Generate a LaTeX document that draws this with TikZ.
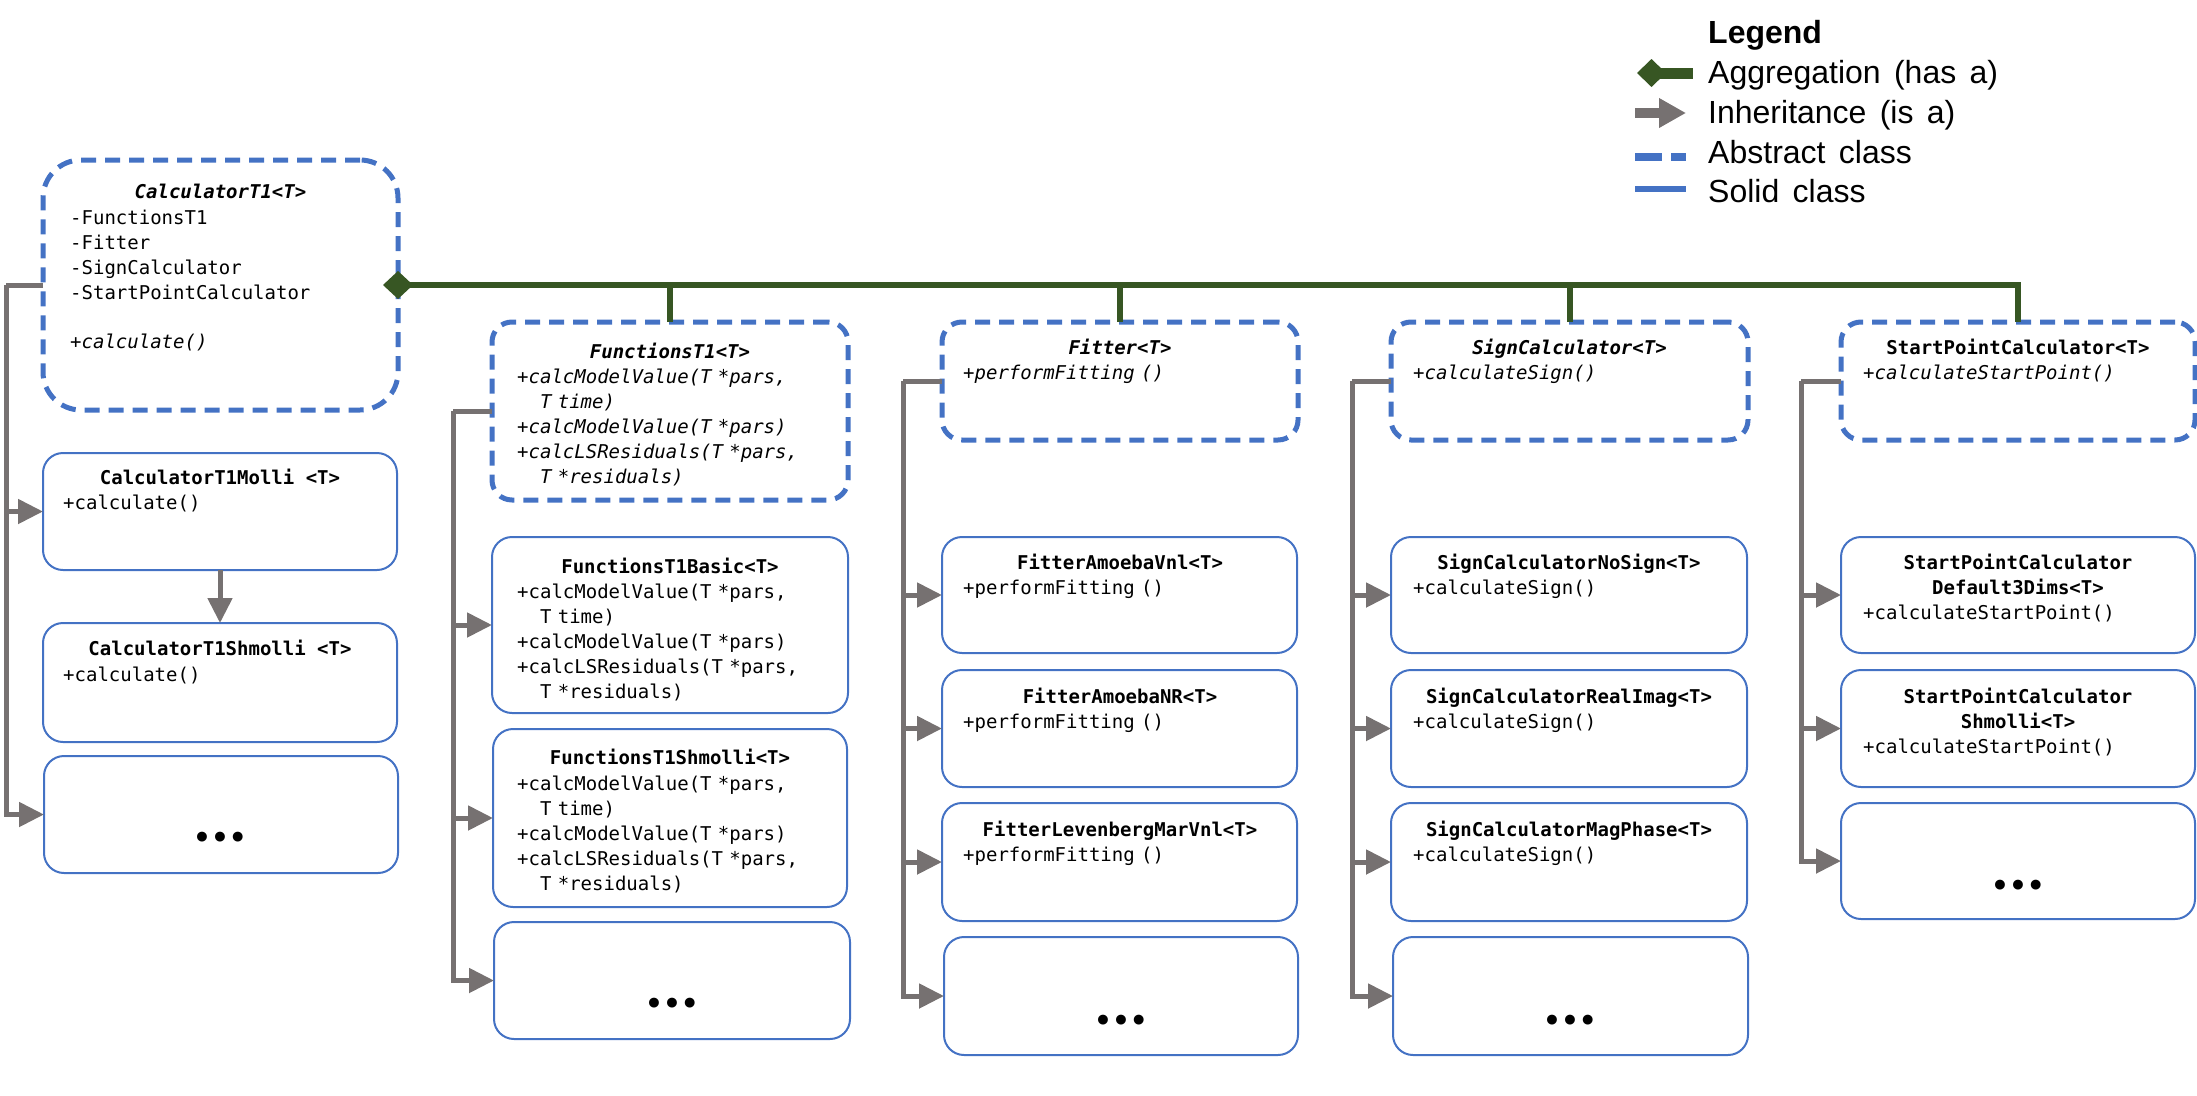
\documentclass[tikz,border=0pt]{standalone}
\usepackage{fontspec}
\setmainfont{Liberation Sans}
\setmonofont{DejaVu Sans Mono}
\newfontfamily\dotfont{DejaVu Sans}
\newfontfamily\legfont[WordSpace=1.5]{Liberation Sans}
\usetikzlibrary{arrows.meta,calc}
\definecolor{umlblue}{HTML}{4472C4}
\definecolor{inhgray}{HTML}{767171}
\definecolor{agggreen}{HTML}{375623}
\newcommand\mfont{\fontsize{19}{25}\selectfont\ttfamily}
\newcommand\umlbox[6]{\node[#1, minimum width={#5-#3}, minimum height={#6-#4}] (#2) at ({(#3+#5)/2},{(#4+#6)/2}) {};}
\begin{document}
\begin{tikzpicture}[x=1pt,y=-1pt,
  absbox/.style={draw=umlblue, line width=5pt, dash pattern=on 15pt off 9pt, rounded corners=20pt, inner sep=0pt, outer sep=0pt},
  solbox/.style={draw=umlblue, line width=2pt, rounded corners=20pt, inner sep=0pt, outer sep=0pt},
  ttl/.style={anchor=base, inner sep=0pt, font=\mfont\bfseries},
  ttli/.style={anchor=base, inner sep=0pt, font=\mfont\bfseries\itshape},
  ttlm/.style={anchor=north, inner sep=0pt, align=center, text width=340pt, font=\mfont\bfseries, execute at begin node={\rule{0pt}{17pt}}},
  body/.style={anchor=north west, inner sep=0pt, align=left, text width=320pt, font=\mfont, execute at begin node={\rule{0pt}{17pt}}},
  bodyi/.style={body, font=\mfont\itshape},
  dotst/.style={anchor=base, inner sep=0pt, font=\fontsize{28}{28}\selectfont\dotfont\bfseries},
  inh/.style={draw=inhgray, line width=5pt, line join=miter, -{Triangle[length=25pt,width=24pt]}},
  inhl/.style={draw=inhgray, line width=5pt, line join=miter},
  agg/.style={draw=agggreen, line width=6pt, line join=miter},
  legt/.style={anchor=base west, inner sep=0pt, font=\fontsize{32}{38}\selectfont\legfont},
]
\useasboundingbox (0,0) rectangle (2197,1095);

% ---------- column 0 ----------
\umlbox{absbox, rounded corners=38pt}{root}{43}{160}{398}{410}
\umlbox{solbox}{molli}{43}{453}{397}{570}
\umlbox{solbox}{shmolli}{43}{623}{397}{742}
\umlbox{solbox}{dots0}{44}{756}{398}{873}
\node[ttli] (root-t) at (220.5,198) {CalculatorT1<T>};
\node[body] (root-b) at (70,207) {-FunctionsT1\\-Fitter\\-SignCalculator\\-StartPointCalculator};
\node[bodyi] (root-m) at (70,331) {+calculate()};
\node[ttl] (molli-t) at (220,484) {CalculatorT1Molli <T>};
\node[body] (molli-b) at (63,492) {+calculate()};
\node[ttl] (shmolli-t) at (220,655) {CalculatorT1Shmolli <T>};
\node[body] (shmolli-b) at (63,664) {+calculate()};
\node[dotst] (dots0-t) at (220,847) {•••};

% ---------- column 1 ----------
\umlbox{absbox}{fun}{492}{322}{848}{500}
\umlbox{solbox}{funbasic}{492}{537}{848}{713}
\umlbox{solbox}{funshm}{493}{729}{847}{907}
\umlbox{solbox}{dots1}{494}{922}{850}{1039}
\node[ttli] (fun-t) at (670,358) {FunctionsT1<T>};
\node[bodyi] (fun-b) at (517,366) {+calcModelValue(T *pars,\\\hphantom{TT}T time)\\+calcModelValue(T *pars)\\+calcLSResiduals(T *pars,\\\hphantom{TT}T *residuals)};
\node[ttl] (funbasic-t) at (670,573) {FunctionsT1Basic<T>};
\node[body] (funbasic-b) at (517,581) {+calcModelValue(T *pars,\\\hphantom{TT}T time)\\+calcModelValue(T *pars)\\+calcLSResiduals(T *pars,\\\hphantom{TT}T *residuals)};
\node[ttl] (funshm-t) at (670,764) {FunctionsT1Shmolli<T>};
\node[body] (funshm-b) at (517,773) {+calcModelValue(T *pars,\\\hphantom{TT}T time)\\+calcModelValue(T *pars)\\+calcLSResiduals(T *pars,\\\hphantom{TT}T *residuals)};
\node[dotst] (dots1-t) at (672,1013) {•••};

% ---------- column 2 ----------
\umlbox{absbox}{fit}{942}{322}{1298}{440}
\umlbox{solbox}{fitA}{942}{537}{1297}{653}
\umlbox{solbox}{fitNR}{942}{670}{1297}{787}
\umlbox{solbox}{fitLM}{942}{803}{1297}{921}
\umlbox{solbox}{dots2}{944}{937}{1298}{1055}
\node[ttli] (fit-t) at (1120,354) {Fitter<T>};
\node[bodyi] (fit-b) at (963,362) {+performFitting ()};
\node[ttl] (fitA-t) at (1120,569) {FitterAmoebaVnl<T>};
\node[body] (fitA-b) at (963,577) {+performFitting ()};
\node[ttl] (fitNR-t) at (1120,703) {FitterAmoebaNR<T>};
\node[body] (fitNR-b) at (963,711) {+performFitting ()};
\node[ttl] (fitLM-t) at (1120,836) {FitterLevenbergMarVnl<T>};
\node[body] (fitLM-b) at (963,844) {+performFitting ()};
\node[dotst] (dots2-t) at (1121,1030) {•••};

% ---------- column 3 ----------
\umlbox{absbox}{sign}{1391}{322}{1748}{440}
\umlbox{solbox}{signN}{1391}{537}{1747}{653}
\umlbox{solbox}{signR}{1391}{670}{1747}{787}
\umlbox{solbox}{signM}{1391}{803}{1747}{921}
\umlbox{solbox}{dots3}{1393}{937}{1748}{1055}
\node[ttli] (sign-t) at (1569.5,354) {SignCalculator<T>};
\node[bodyi] (sign-b) at (1413,362) {+calculateSign()};
\node[ttl] (signN-t) at (1569,569) {SignCalculatorNoSign<T>};
\node[body] (signN-b) at (1413,577) {+calculateSign()};
\node[ttl] (signR-t) at (1569,703) {SignCalculatorRealImag<T>};
\node[body] (signR-b) at (1413,711) {+calculateSign()};
\node[ttl] (signM-t) at (1569,836) {SignCalculatorMagPhase<T>};
\node[body] (signM-b) at (1413,844) {+calculateSign()};
\node[dotst] (dots3-t) at (1570,1030) {•••};

% ---------- column 4 ----------
\umlbox{absbox}{sp}{1841}{322}{2195}{440}
\umlbox{solbox}{spD}{1841}{537}{2195}{653}
\umlbox{solbox}{spS}{1841}{670}{2195}{787}
\umlbox{solbox}{dots4}{1841}{803}{2195}{919}
\node[ttl] (sp-t) at (2018,354) {StartPointCalculator<T>};
\node[bodyi] (sp-b) at (1863,362) {+calculateStartPoint()};
\node[ttlm] (spD-t) at (2018,552) {StartPointCalculator\\Default3Dims<T>};
\node[body] (spD-b) at (1863,602) {+calculateStartPoint()};
\node[ttlm] (spS-t) at (2018,686) {StartPointCalculator\\Shmolli<T>};
\node[body] (spS-b) at (1863,736) {+calculateStartPoint()};
\node[dotst] (dots4-t) at (2018,895) {•••};

% ---------- inheritance ----------
\coordinate (b0) at (6,285);
\draw[inhl] (root.west) -- (b0);
\draw[inh] (b0) |- (molli.west);
\draw[inh] (b0) |- (dots0.west);
\draw[inh] (molli.south) -- (shmolli.north);

\coordinate (b1) at (453,411);
\draw[inhl] (fun.west) -- (b1);
\draw[inh] (b1) |- (funbasic.west);
\draw[inh] (b1) |- (funshm.west);
\draw[inh] (b1) |- (dots1.west);

\coordinate (b2) at (903,381);
\draw[inhl] (fit.west) -- (b2);
\draw[inh] (b2) |- (fitA.west);
\draw[inh] (b2) |- (fitNR.west);
\draw[inh] (b2) |- (fitLM.west);
\draw[inh] (b2) |- (dots2.west);

\coordinate (b3) at (1352,381);
\draw[inhl] (sign.west) -- (b3);
\draw[inh] (b3) |- (signN.west);
\draw[inh] (b3) |- (signR.west);
\draw[inh] (b3) |- (signM.west);
\draw[inh] (b3) |- (dots3.west);

\coordinate (b4) at (1801,381);
\draw[inhl] (sp.west) -- (b4);
\draw[inh] (b4) |- (spD.west);
\draw[inh] (b4) |- (spS.west);
\draw[inh] (b4) |- (dots4.west);

% ---------- aggregation ----------
\coordinate (ag0) at ($(root.east)+(-15,0)$);
\draw[agg, {Diamond[length=30pt,width=28pt]}-] (ag0) -- (sp.north |- ag0) -- (sp.north);
\draw[agg] (fun.north |- ag0) -- (fun.north);
\draw[agg] (fit.north |- ag0) -- (fit.north);
\draw[agg] (sign.north |- ag0) -- (sign.north);

% ---------- legend ----------
\node[legt] (leg0) at (1708,43) {\textbf{Legend}};
\node[legt] (leg1) at (1708,83) {Aggregation (has a)};
\node[legt] (leg2) at (1708,123) {Inheritance (is a)};
\node[legt] (leg3) at (1708,163) {Abstract class};
\node[legt] (leg4) at (1708,202) {Solid class};
\coordinate (l1a) at (1637,73); \coordinate (l1b) at (1693,73);
\coordinate (l2a) at (1635,113); \coordinate (l2b) at (1686,113);
\coordinate (l3a) at (1635,157); \coordinate (l3b) at (1686,157);
\coordinate (l4a) at (1635,189); \coordinate (l4b) at (1686,189);
\draw[draw=agggreen, line width=11pt, {Diamond[length=29pt,width=28pt]}-] (l1a) -- (l1b);
\draw[draw=inhgray, line width=10pt, -{Triangle[length=27pt,width=28pt]}] (l2a) -- (l2b);
\draw[draw=umlblue, line width=8pt, dash pattern=on 27pt off 9pt] (l3a) -- (l3b);
\draw[draw=umlblue, line width=6pt] (l4a) -- (l4b);
\end{tikzpicture}
\end{document}
